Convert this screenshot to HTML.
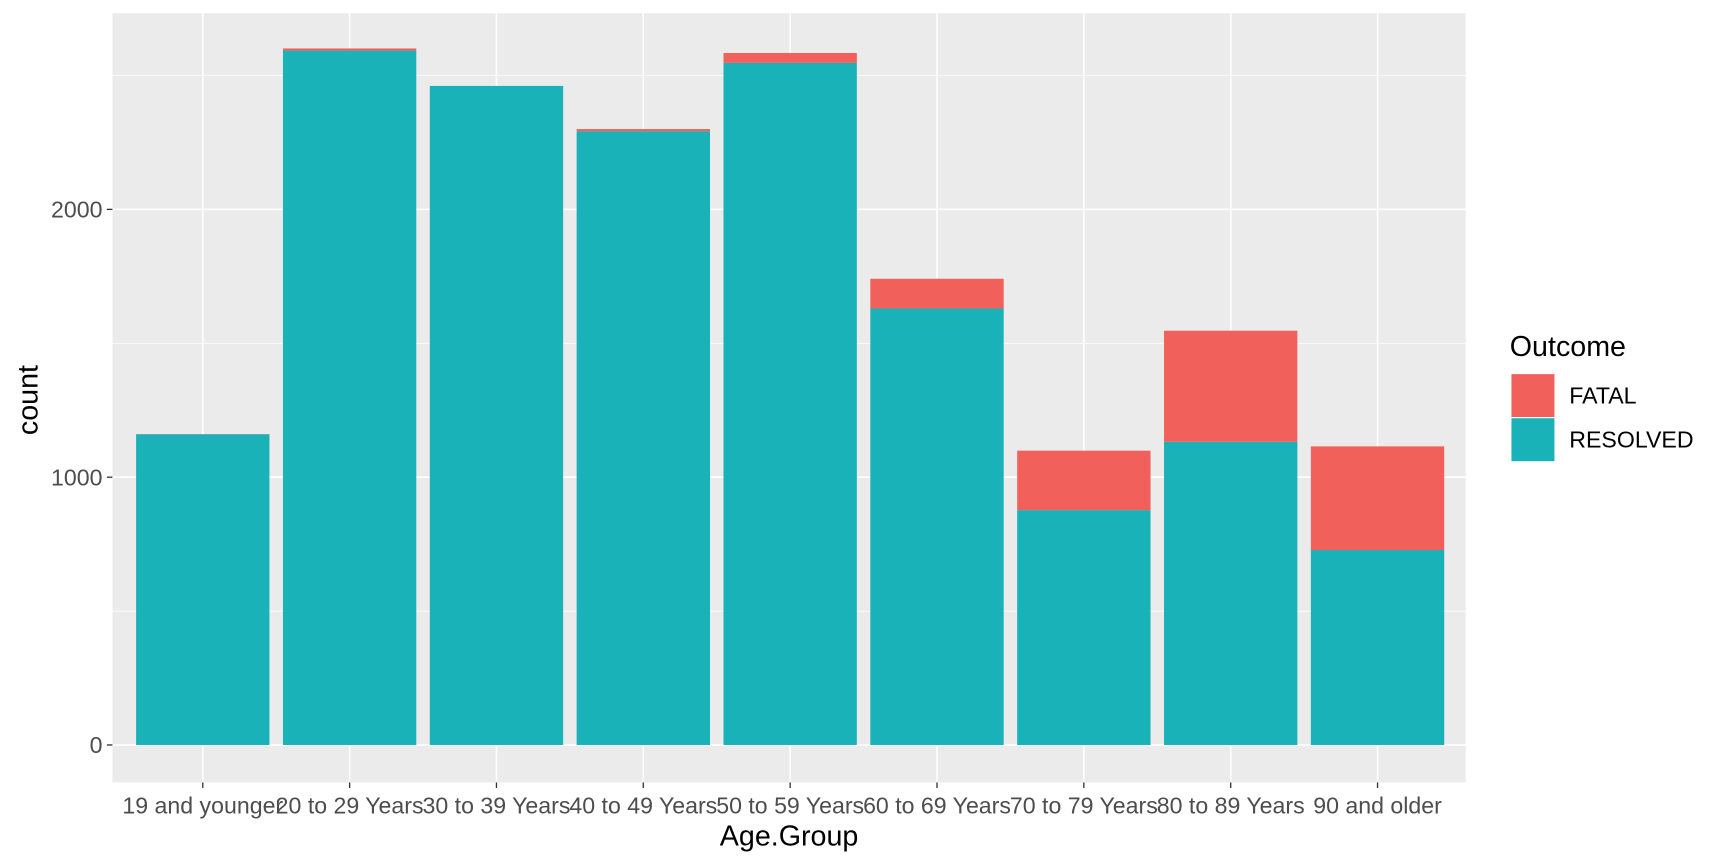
<!DOCTYPE html>
<html><head><meta charset="utf-8"><style>
html,body{margin:0;padding:0;background:#fff}
svg{display:block;font-family:"Liberation Sans",Arial,sans-serif}
</style></head><body>
<svg id="chart" width="1728" height="864" viewBox="0 0 1568 784" xmlns="http://www.w3.org/2000/svg">
<rect x="0" y="0" width="1568" height="784" fill="#fff"/>
<rect x="102" y="12" width="1228" height="698" fill="#EBEBEB"/>
<g id="grid"></g><g id="bars"></g><g id="axes"></g>
<text x="716" y="767" font-size="26" text-anchor="middle" fill="#000">Age.Group</text>
<text transform="translate(34,363) rotate(-90)" font-size="26" text-anchor="middle" fill="#000">count</text>
<g>
<text x="1370" y="323" font-size="26" fill="#000">Outcome</text>
<rect x="1371" y="339" width="40" height="40" fill="#F2605C" stroke="#fff"/>
<text x="1424" y="366" font-size="21" fill="#000">FATAL</text>
<rect x="1371" y="379" width="40" height="40" fill="#19B2B8" stroke="#fff"/>
<text x="1424" y="406" font-size="21" fill="#000">RESOLVED</text>
</g>
</svg>
<script>
const categories = ["19 and younger","20 to 29 Years","30 to 39 Years","40 to 49 Years","50 to 59 Years","60 to 69 Years","70 to 79 Years","80 to 89 Years","90 and older"];
const resolved = [1160,2593,2461,2292,2547,1630,877,1132,728];
const fatal = [1,8,0,8,37,111,222,415,387];
const yTicks = [0,1000,2000];
const yMinor = [500,1500,2500];
const NS="http://www.w3.org/2000/svg";
const px0=102, px1=1330, y0=676, perUnit=0.243;
const y = v => y0 - v*perUnit;
const step = 133.25;
const x = i => 184 + i*step;
const bw = 121;
function mk(tag, attrs, parent){const e=document.createElementNS(NS,tag);for(const k in attrs)e.setAttribute(k,attrs[k]);parent.appendChild(e);return e;}
const grid=document.getElementById('grid'), bars=document.getElementById('bars'), axes=document.getElementById('axes');
yMinor.forEach(v=>{const l=mk('line',{x1:px0,x2:px1,y1:y(v),y2:y(v),stroke:'#fff','stroke-width':0.7},grid);

});
yTicks.forEach(v=>{const l=mk('line',{x1:px0,x2:px1,y1:y(v),y2:y(v),stroke:'#fff','stroke-width':1.4},grid);


const t=mk('line',{x1:97,x2:102,y1:y(v),y2:y(v),stroke:'#333','stroke-width':1.2},axes);


const tx=mk('text',{x:93,y:y(v)+7.5,'font-size':21,'text-anchor':'end',fill:'#4D4D4D'},axes);tx.textContent=v;

});
categories.forEach((c,i)=>{
const cx=x(i);
const g=mk('line',{x1:cx,x2:cx,y1:12,y2:710,stroke:'#fff','stroke-width':1.4},grid);


const r=mk('rect',{x:cx-bw/2,y:y(resolved[i]),width:bw,height:resolved[i]*perUnit,fill:'#19B2B8'},bars);


const f=mk('rect',{x:cx-bw/2,y:y(resolved[i]+fatal[i]),width:bw,height:fatal[i]*perUnit,fill:'#F2605C'},bars);


const t=mk('line',{x1:cx,x2:cx,y1:710,y2:715,stroke:'#333','stroke-width':1.2},axes);


const tx=mk('text',{x:cx,y:738,'font-size':21,'text-anchor':'middle',fill:'#4D4D4D'},axes);tx.textContent=c;


});
</script>
</body></html>
